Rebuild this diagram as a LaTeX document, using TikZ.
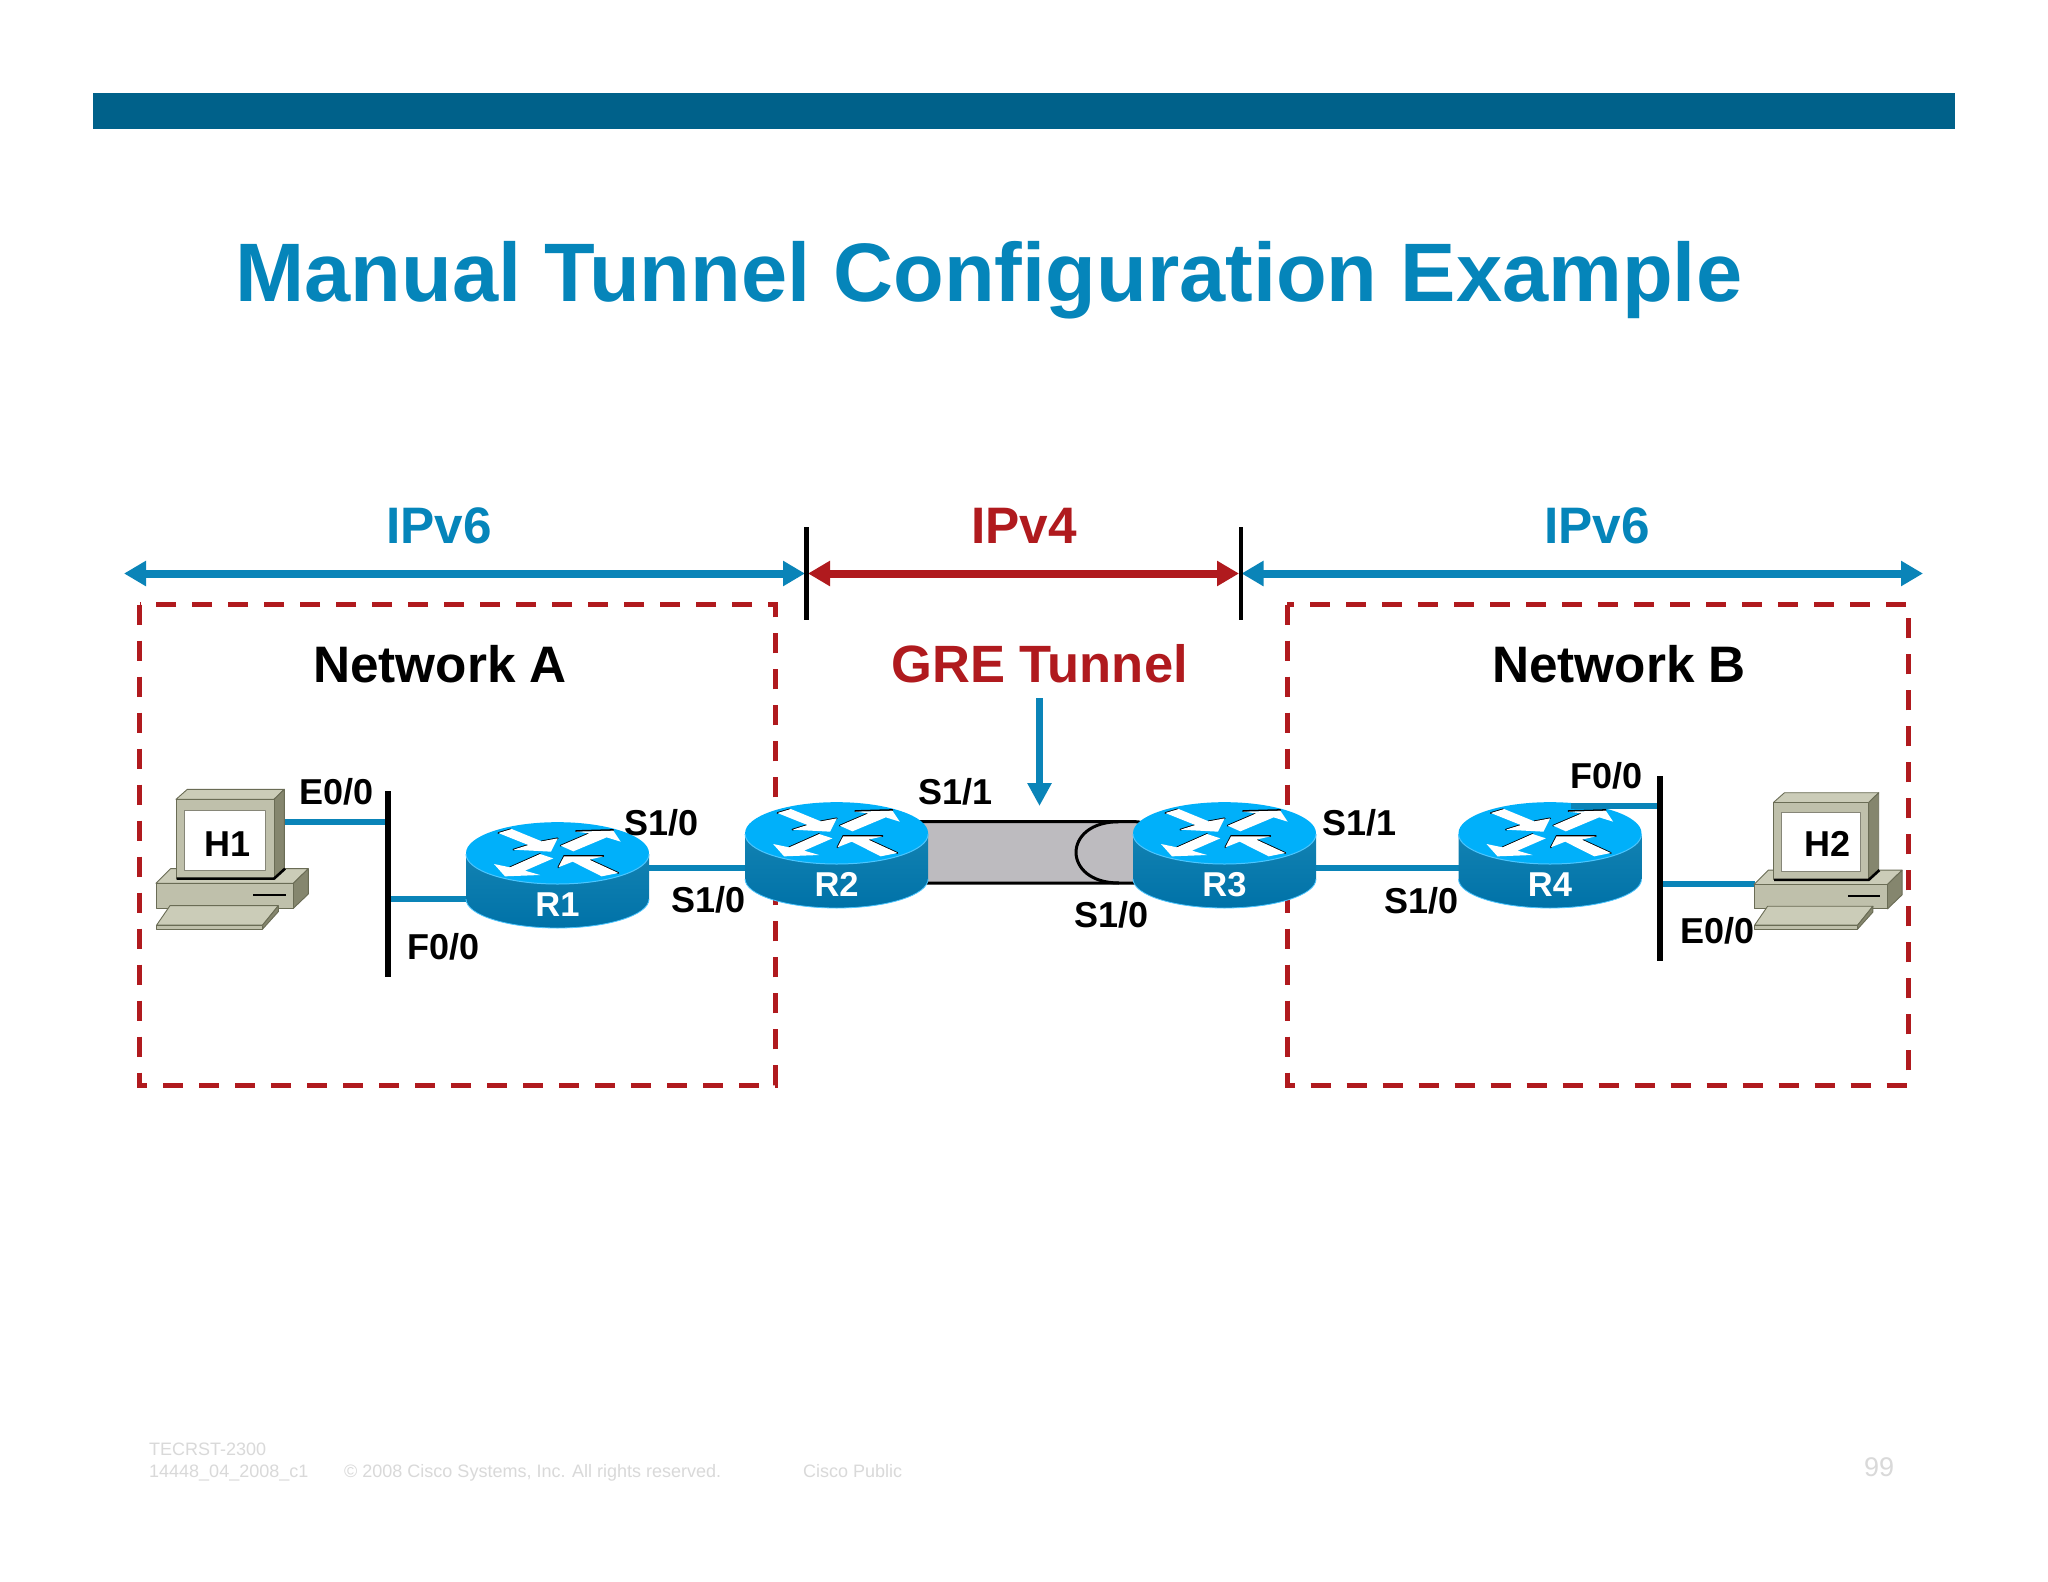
\documentclass[tikz,border=0pt]{standalone}
\usepackage{fontspec}
\setmainfont{Liberation Sans}
\usetikzlibrary{arrows.meta}
\definecolor{ciscoblue}{HTML}{0A84B8}
\definecolor{titleblue}{HTML}{0585BA}
\definecolor{barblue}{HTML}{00618A}
\definecolor{redline}{HTML}{B01A1E}
\definecolor{rtop}{HTML}{00B0FA}
\definecolor{rsideA}{HTML}{1282B2}
\definecolor{rsideB}{HTML}{0072A8}
\definecolor{redge}{HTML}{4CC6FF}
\definecolor{pcface}{HTML}{BFC0AB}
\definecolor{pctop}{HTML}{CBCCB8}
\definecolor{pcside}{HTML}{85866E}
\definecolor{pcline}{HTML}{6A6C55}
\definecolor{foot}{HTML}{D9D9D9}
\definecolor{tunnelgrey}{HTML}{BDBBBF}
\tikzset{
  lbl/.style={anchor=base west,inner sep=0pt,font=\fontsize{36}{36}\selectfont\bfseries,text=black},
  captext/.style={anchor=base,inner sep=0pt,font=\fontsize{51.3}{51}\selectfont\bfseries},
  ftext/.style={anchor=base west,inner sep=0pt,font=\fontsize{18}{18}\selectfont,text=foot},
  link/.style={draw=ciscoblue,line width=6pt},
  blackbar/.style={draw=black,line width=6pt},
  tickline/.style={draw=black,line width=4.5pt},
  spanline/.style={line width=8pt,{Triangle[length=22pt,width=24pt]}-{Triangle[length=22pt,width=24pt]}},
  netbox/.style={draw=redline,line width=5pt,dash pattern=on 20pt off 16pt},
  rarrow/.style={fill=white},
  rshadow/.style={draw=black,line width=1.7pt,line cap=round},
}
\newcommand{\routerpic}[4]{%
 \begin{scope}[shift={({#2-352.5/3},{#3-225/3})},x=0.33333pt,y=-0.33333pt]
  \shade[top color=rsideA,bottom color=rsideB] (78,225) -- (78,360) arc[x radius=274.5,y radius=87,start angle=180,end angle=0] -- (627,225) -- cycle;
  \draw[redge,line width=0.8pt] (78,360) arc[x radius=274.5,y radius=87,start angle=180,end angle=0];
  \fill[rtop] (352.5,222.5) ellipse[x radius=274.5,y radius=93];
  \draw[redge,line width=1pt] (78,225) arc[x radius=274.5,y radius=90,start angle=180,end angle=0];
  \draw[rshadow] (175,162) -- (212,151);
  \draw[rshadow] (305,187) -- (353,178);
  \draw[rshadow] (220,212) -- (265,198);
  \draw[rshadow] (362,200) -- (448,163);
  \draw[rshadow] (408,156) -- (520,153);
  \draw[rshadow] (300,225) -- (210,265);
  \draw[rshadow] (372,231) -- (490,231);
  \draw[rshadow] (355,265) -- (372,232);
  \draw[rshadow] (448,242) -- (535,282);
  \fill[rarrow] (175,162) -- (215,150) -- (305,187) -- (353,178) -- (333,218) -- (220,212) -- (265,198) -- cycle;
  \fill[rarrow] (362,200) -- (448,163) -- (408,158) -- (520,155) -- (542,188) -- (500,175) -- (400,217) -- cycle;
  \fill[rarrow] (340,238) -- (300,225) -- (210,265) -- (162,255) -- (195,292) -- (300,288) -- (255,275) -- cycle;
  \fill[rarrow] (535,282) -- (448,242) -- (490,232) -- (372,232) -- (355,265) -- (398,248) -- (485,292) -- cycle;
  \node[anchor=base,inner sep=0pt,text=white,font=\fontsize{34.5}{34}\selectfont\bfseries] (#1) at (352.5,#4) {#1};
 \end{scope}}
\newcommand{\pcpic}[4]{%
 \begin{scope}[shift={(#1,#2)},x=#3*0.33333pt,y=-#4*0.33333pt,draw=pcline,line width=0.9pt,line join=round]
  \filldraw[fill=pctop] (78,370) -- (122,326) -- (535,326) -- (490,370) -- cycle;
  \filldraw[fill=pcside] (490,370) -- (535,326) -- (535,402) -- (490,445) -- cycle;
  \filldraw[fill=pcface] (78,370) rectangle (490,445);
  \fill[black] (368,401) rectangle (468,407);
  \filldraw[fill=pctop] (80,495) -- (120,437) -- (445,437) -- (398,495) -- cycle;
  \filldraw[fill=pcside] (398,495) -- (445,437) -- (445,455) -- (398,507) -- cycle;
  \filldraw[fill=pcface] (80,495) rectangle (398,507);
  \filldraw[fill=pctop] (138,118) -- (172,88) -- (463,88) -- (432,118) -- cycle;
  \filldraw[fill=pcside] (432,118) -- (463,88) -- (463,325) -- (432,355) -- cycle;
  \filldraw[fill=pcface] (138,118) rectangle (432,355);
  \filldraw[fill=white,draw=pcface!70!black] (163,150) rectangle (407,330);
  \draw[black,line width=2.6pt] (140,356) -- (432,356) -- (465,326);
 \end{scope}}
\begin{document}
\begin{tikzpicture}[x=1pt,y=-1pt]
\useasboundingbox (0,0) rectangle (2048,1582);
\fill[white] (0,0) rectangle (2048,1582);
\fill[barblue] (93,93) rectangle (1955,129);
\node[anchor=base west,inner sep=0pt,text=titleblue,font=\fontsize{83}{83}\selectfont\bfseries] (title) at (235.5,301) {Manual Tunnel Configuration Example};

% named end points
\coordinate (tickLa) at (806.7,527); \coordinate (tickLb) at (806.7,620);
\coordinate (tickRa) at (1241,527);  \coordinate (tickRb) at (1241,620);
\coordinate (v6La) at (124,573.5);   \coordinate (v6Lb) at (805,573.5);
\coordinate (v4a) at (808,573.5);    \coordinate (v4b) at (1239,573.5);
\coordinate (v6Ra) at (1241.5,573.5);  \coordinate (v6Rb) at (1923,573.5);
\coordinate (greTop) at (1039.5,698); \coordinate (greTip) at (1039.5,806);
\coordinate (barAa) at (387.7,791);  \coordinate (barAb) at (387.7,977);
\coordinate (barBa) at (1660,776);   \coordinate (barBb) at (1660,961);
\coordinate (h1port) at (285,821.7); \coordinate (barAh) at (387.7,821.7);
\coordinate (barAr) at (387.7,899);  \coordinate (r1w) at (466,899);
\coordinate (r1e) at (649,868);      \coordinate (r2w) at (746,868);
\coordinate (r3e) at (1315,868);     \coordinate (r4w) at (1460,868);
\coordinate (r4top) at (1571,806);   \coordinate (barBr) at (1660,806);
\coordinate (barBh) at (1660,884);   \coordinate (h2port) at (1755,884);

\draw[spanline,draw=ciscoblue] (v6La) -- (v6Lb);
\draw[spanline,draw=ciscoblue] (v6Ra) -- (v6Rb);
\draw[spanline,draw=redline] (v4a) -- (v4b);
\draw[tickline] (tickLa) -- (tickLb);
\draw[tickline] (tickRa) -- (tickRb);

\node[captext,text=titleblue] (ipa) at (439,543) {IPv6};
\node[captext,text=redline] (ipb) at (1024,543) {IPv4};
\node[captext,text=titleblue] (ipc) at (1597,543) {IPv6};

\draw[netbox] (139.5,604.7) rectangle (775.5,1085);
\draw[netbox] (1287,604.7) rectangle (1908,1085);

\node[captext,text=black] (neta) at (440,682) {Network A};
\node[captext,text=redline,font=\fontsize{52.5}{52}\selectfont\bfseries] (gre) at (1039.5,682) {GRE Tunnel};
\node[captext,text=black] (netb) at (1619,682) {Network B};

\draw[ciscoblue,line width=7pt,-{Triangle[length=23pt,width=23pt]}] (greTop) -- (greTip);

% links
\draw[link] (h1port) -- (barAh);
\draw[link] (barAr) -- (r1w);
\draw[link] (r1e) -- (r2w);
\draw[link] (r3e) -- (r4w);
\draw[link] (barBh) -- (h2port);

% tunnel
\draw[fill=tunnelgrey,line width=3pt,rounded corners=14pt] (905,821.7) rectangle (1150,883);
\draw[line width=3pt] (1119,821.7) .. controls (1061.7,821.7) and (1061.7,883) .. (1119,883);

% routers
\routerpic{R1}{557.5}{854}{412}
\routerpic{R2}{836.6}{834}{412}
\routerpic{R3}{1224.5}{834}{412}
\routerpic{R4}{1550}{834}{412}

\draw[link] (r4top) -- (barBr);
\draw[blackbar] (barAa) -- (barAb);
\draw[blackbar] (barBa) -- (barBb);

% hosts
\pcpic{130}{760}{1}{1}
\pcpic{1728.7}{764.1}{0.972}{0.976}
\node[anchor=center,inner sep=0pt,font=\fontsize{36}{36}\selectfont\bfseries] (H1) at (227.5,844) {H1};
\node[anchor=center,inner sep=0pt,font=\fontsize{36}{36}\selectfont\bfseries] (H2) at (1827,844) {H2};

% interface labels
\node[lbl] (l1) at (299,804) {E0/0};
\node[lbl] (l2) at (407,959) {F0/0};
\node[lbl] (l3) at (624,835) {S1/0};
\node[lbl] (l4) at (671,912.7) {S1/0};
\node[lbl] (l5) at (918,804) {S1/1};
\node[lbl] (l6) at (1074,927) {S1/0};
\node[lbl] (l7) at (1322,835) {S1/1};
\node[lbl] (l8) at (1384,913) {S1/0};
\node[lbl] (l9) at (1570,788) {F0/0};
\node[lbl] (l10) at (1680,943) {E0/0};

% footer
\node[ftext] (f1) at (149,1455) {TECRST-2300};
\node[ftext] (f2) at (149,1477) {14448\_04\_2008\_c1};
\node[ftext] (f3) at (344,1477) {© 2008 Cisco Systems, Inc. All rights reserved.};
\node[ftext] (f4) at (803,1477) {Cisco Public};
\node[anchor=base west,inner sep=0pt,text=foot,font=\fontsize{27}{27}\selectfont] (f5) at (1864,1476) {99};
\end{tikzpicture}
\end{document}
